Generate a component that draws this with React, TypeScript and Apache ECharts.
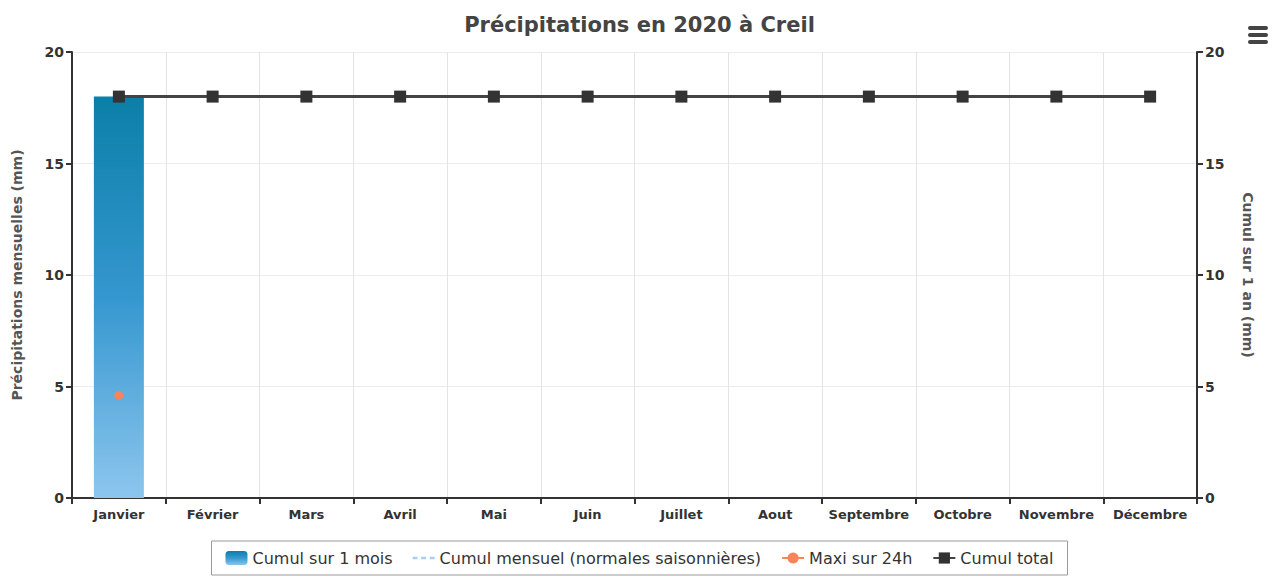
import React, { useEffect, useRef } from "react";
import * as echarts from "echarts";

const months = ["Janvier", "Février", "Mars", "Avril", "Mai", "Juin", "Juillet", "Aout", "Septembre", "Octobre", "Novembre", "Décembre"];
const cumulMois: (number | null)[] = [18, null, null, null, null, null, null, null, null, null, null, null];
const normales: (number | null)[] = [null, null, null, null, null, null, null, null, null, null, null, null];
const maxi24h: (number | null)[] = [4.6, null, null, null, null, null, null, null, null, null, null, null];
const cumulTotal: number[] = [18, 18, 18, 18, 18, 18, 18, 18, 18, 18, 18, 18];
const FONT = "'DejaVu Sans', sans-serif";

export default function App() {
  const ref = useRef<HTMLDivElement>(null);
  useEffect(() => {
    document.body.style.margin = "0";
    const chart = echarts.init(ref.current!, undefined, { renderer: "svg" });
    chart.setOption({
      animation: false,
      backgroundColor: "#ffffff",
      textStyle: { fontFamily: FONT },
      title: {
        text: "Précipitations en 2020 à Creil",
        left: "center",
        top: 9,
        textStyle: { fontSize: 21, fontWeight: "bold", color: "#444", fontFamily: FONT },
      },
      graphic: [
        { type: "rect", shape: { x: 1248, y: 26, width: 20, height: 4, r: 2 }, style: { fill: "#444" } },
        { type: "rect", shape: { x: 1248, y: 33, width: 20, height: 4, r: 2 }, style: { fill: "#444" } },
        { type: "rect", shape: { x: 1248, y: 40, width: 20, height: 4, r: 2 }, style: { fill: "#444" } },
      ],
      legend: {
        bottom: 3,
        left: "center",
        borderColor: "#999",
        borderWidth: 1,
        padding: [9, 14],
        itemGap: 20,
        itemWidth: 22,
        itemHeight: 14,
        textStyle: { fontSize: 16, color: "#333", fontWeight: "normal", fontFamily: FONT },
        data: [
          { name: "Cumul sur 1 mois" },
          {
            name: "Cumul mensuel (normales saisonnières)",
            icon: "path://M0,6h4v2h-4z M7,6h4v2h-4z M14,6h4v2h-4z",
            itemStyle: { color: "#a9cfee" },
          },
          { name: "Maxi sur 24h" },
          { name: "Cumul total" },
        ],
      },
      grid: { left: 72, right: 82, top: 52, bottom: 80 },
      xAxis: {
        type: "category",
        data: months,
        boundaryGap: true,
        axisLine: { lineStyle: { color: "#333", width: 2 } },
        axisTick: { show: true, length: 6, lineStyle: { color: "#333", width: 2 } },
        axisLabel: { interval: 0, fontSize: 13, color: "#333", fontWeight: "bold", margin: 10, fontFamily: FONT },
        splitLine: { show: true, interval: 0, lineStyle: { color: "#e4e4e4" } },
      },
      yAxis: [
        {
          type: "value",
          min: 0,
          max: 20,
          interval: 5,
          name: "Précipitations mensuelles (mm)",
          nameLocation: "middle",
          nameGap: 48,
          nameTextStyle: { fontSize: 14, fontWeight: "bold", color: "#555", fontFamily: FONT },
          axisLine: { show: true, lineStyle: { color: "#333", width: 2 } },
          axisTick: { show: true, length: 6, lineStyle: { color: "#333", width: 2 } },
          axisLabel: { fontSize: 14, fontWeight: "bold", color: "#333", fontFamily: FONT },
          splitLine: { show: true, lineStyle: { color: "#ececec" } },
        },
        {
          type: "value",
          min: 0,
          max: 20,
          interval: 5,
          position: "right",
          name: "Cumul sur 1 an (mm)",
          nameLocation: "middle",
          nameGap: 44,
          nameRotate: -90,
          nameTextStyle: { fontSize: 14, fontWeight: "bold", color: "#555", fontFamily: FONT },
          axisLine: { show: true, lineStyle: { color: "#333", width: 2 } },
          axisTick: { show: true, length: 6, lineStyle: { color: "#333", width: 2 } },
          axisLabel: { fontSize: 14, fontWeight: "bold", color: "#333", fontFamily: FONT },
          splitLine: { show: false },
        },
      ],
      series: [
        {
          name: "Cumul sur 1 mois",
          type: "bar",
          yAxisIndex: 0,
          data: cumulMois,
          barWidth: 50,
          itemStyle: {
            color: new echarts.graphic.LinearGradient(0, 0, 0, 1, [
              { offset: 0, color: "#0b7fa8" },
              { offset: 0.5, color: "#3597cf" },
              { offset: 1, color: "#8cc6ee" },
            ]),
          },
        },
        {
          name: "Cumul mensuel (normales saisonnières)",
          type: "line",
          yAxisIndex: 0,
          data: normales,
          symbol: "none",
          lineStyle: { color: "#a9cfee", type: "dashed", width: 2 },
          itemStyle: { color: "#a9cfee" },
        },
        {
          name: "Maxi sur 24h",
          type: "line",
          yAxisIndex: 0,
          data: maxi24h,
          symbol: "circle",
          symbolSize: 9,
          lineStyle: { color: "#f7845a", width: 2 },
          itemStyle: { color: "#f7845a" },
        },
        {
          name: "Cumul total",
          type: "line",
          yAxisIndex: 1,
          data: cumulTotal,
          symbol: "rect",
          symbolSize: 12,
          lineStyle: { color: "#444", width: 3 },
          itemStyle: { color: "#333" },
        },
      ],
    });
    return () => chart.dispose();
  }, []);
  return <div ref={ref} style={{ width: 1279, height: 578 }} />;
}
